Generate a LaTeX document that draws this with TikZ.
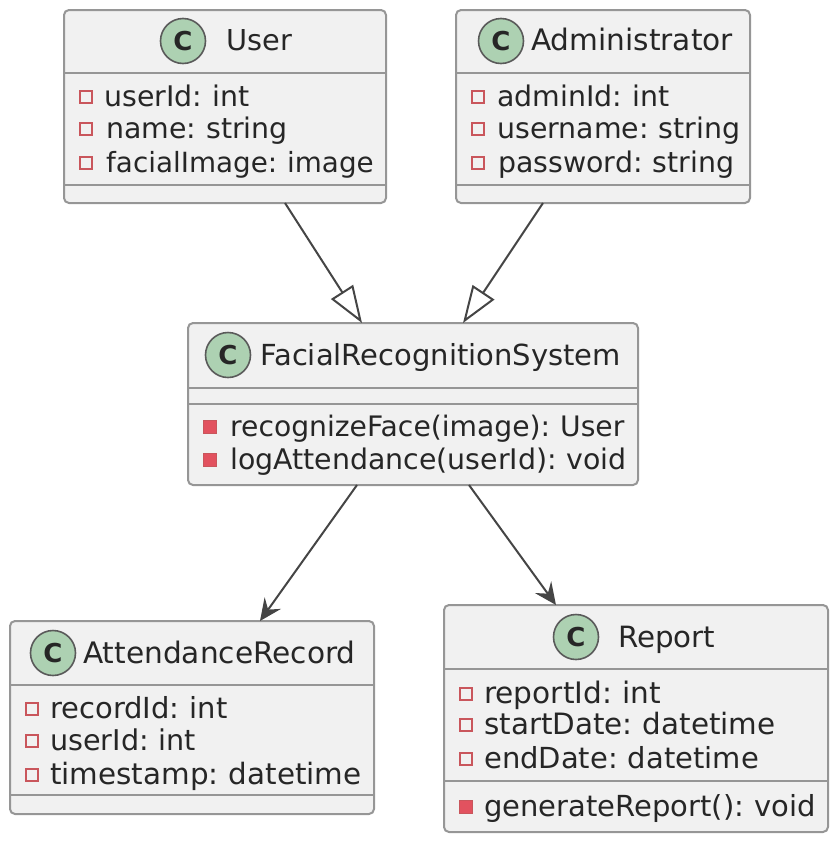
\documentclass[tikz,border=0pt]{standalone}
\usepackage{fontspec}
\setmainfont{DejaVu Sans}
\usetikzlibrary{arrows.meta}
\definecolor{boxfill}{HTML}{F1F1F1}
\definecolor{boxline}{HTML}{969696}
\definecolor{linkline}{HTML}{454545}
\definecolor{iconfill}{HTML}{ADD1B2}
\definecolor{iconline}{HTML}{5A5A5A}
\definecolor{privline}{HTML}{C9565C}
\definecolor{privfill}{HTML}{E2525F}
\definecolor{inktext}{HTML}{262626}
\tikzset{
  classbox/.style={draw=boxline, fill=boxfill, line width=2pt, rounded corners=5pt, inner sep=0pt, outer sep=0pt},
  sepline/.style={draw=boxline, line width=2pt},
  icon/.style={circle, draw=iconline, fill=iconfill, line width=1.6pt, minimum size=45pt, inner sep=0pt, font=\fontsize{26}{26}\selectfont\bfseries, text=inktext},
  title/.style={anchor=base west, inner sep=0pt, text=inktext},
  member/.style={anchor=base west, inner sep=0pt, text=inktext, execute at begin node={\spaceskip 7pt\relax}},
  attrmark/.style={draw=privline, fill=boxfill, line width=1.8pt, minimum size=12pt, inner sep=0pt},
  methmark/.style={draw=privline, fill=privfill, line width=1pt, minimum size=13.5pt, inner sep=0pt},
  genarr/.style={draw=linkline, line width=2pt, -{Triangle[open, length=37pt, width=26pt, line width=2pt]}},
  usearr/.style={draw=linkline, line width=2pt, -{Stealth[length=22pt, width=20pt, inset=8pt]}},
}
\begin{document}
\begin{tikzpicture}[x=1pt,y=-1pt]
  \useasboundingbox (0,0) rectangle (840,852);
  % class boxes
  \node[classbox, minimum width=322pt, minimum height=193pt] (user) at (225,106.5) {};
  \node[classbox, minimum width=294pt, minimum height=193pt] (admin) at (603,106.5) {};
  \node[classbox, minimum width=450pt, minimum height=162pt] (frs) at (413,404) {};
  \node[classbox, minimum width=364pt, minimum height=193pt] (record) at (192,717.5) {};
  \node[classbox, minimum width=384pt, minimum height=227pt] (report) at (636,718.5) {};
  % compartment lines
  \foreach \cls/\yy in {user/73,user/185,admin/73,admin/185,frs/388,frs/404,record/685,record/795,report/669,report/781} {
    \draw[sepline] (\cls.west |- 0,\yy) -- (\cls.east |- 0,\yy);
  }
  % headers
  \foreach \cls/\cx/\cy/\tx/\ty/\fs/\lab in {%
    user/183/41/226/50/28.8/User,
    admin/501/41/531/50/29.6/Administrator,
    frs/228/355/260/365/29/FacialRecognitionSystem,
    record/53/653/83/663/29.6/AttendanceRecord,
    report/576/637/618/647/29.3/Report} {
    \node[icon] (\cls-icon) at (\cx,\cy) {C};
    \node[title, font=\fontsize{\fs}{29}\selectfont] (\cls-title) at (\tx,\ty) {\lab};
  }
  % attributes
  \foreach \name/\mx/\tx/\ty/\fs/\lab in {%
    userid/86/104/106/28.4/{userId: int},
    username/86/106/138/28.4/{name: string},
    userimg/86/106/172/27.8/{facialImage: image},
    adminid/478/497/106/28.4/{adminId: int},
    adminname/478/497/138/28.4/{username: string},
    adminpass/478/498/172/28.4/{password: string},
    recid/32/50/718/29/{recordId: int},
    recuser/32/50/750/28.6/{userId: int},
    recstamp/32/50/784/29.4/{timestamp: datetime},
    repid/466/484/703/29.6/{reportId: int},
    repstart/466/484/734/29.4/{startDate: datetime},
    repend/466/484/768/29/{endDate: datetime}} {
    \node[attrmark] (\name-mark) at (\mx,\ty-9) {};
    \node[member, font=\fontsize{\fs}{29}\selectfont] (\name) at (\tx,\ty) {\lab};
  }
  % methods
  \foreach \name/\mx/\tx/\ty/\fs/\lab in {%
    recognize/210/230/436/28.2/{recognizeFace(image): User},
    logatt/210/230/469/28.4/{logAttendance(userId): void},
    generate/466/484/816/29/{generateReport(): void}} {
    \node[methmark] (\name-mark) at (\mx,\ty-9) {};
    \node[member, font=\fontsize{\fs}{29}\selectfont] (\name) at (\tx,\ty) {\lab};
  }
  % links
  \draw[genarr] (user.south -| 285,0) -- (frs.north -| 362,0);
  \draw[genarr] (admin.south -| 543,0) -- (frs.north -| 463,0);
  \draw[usearr] (frs.south -| 357,0) -- (record.north -| 260,0);
  \draw[usearr] (frs.south -| 469,0) -- (report.north -| 556,0);
\end{tikzpicture}
\end{document}
